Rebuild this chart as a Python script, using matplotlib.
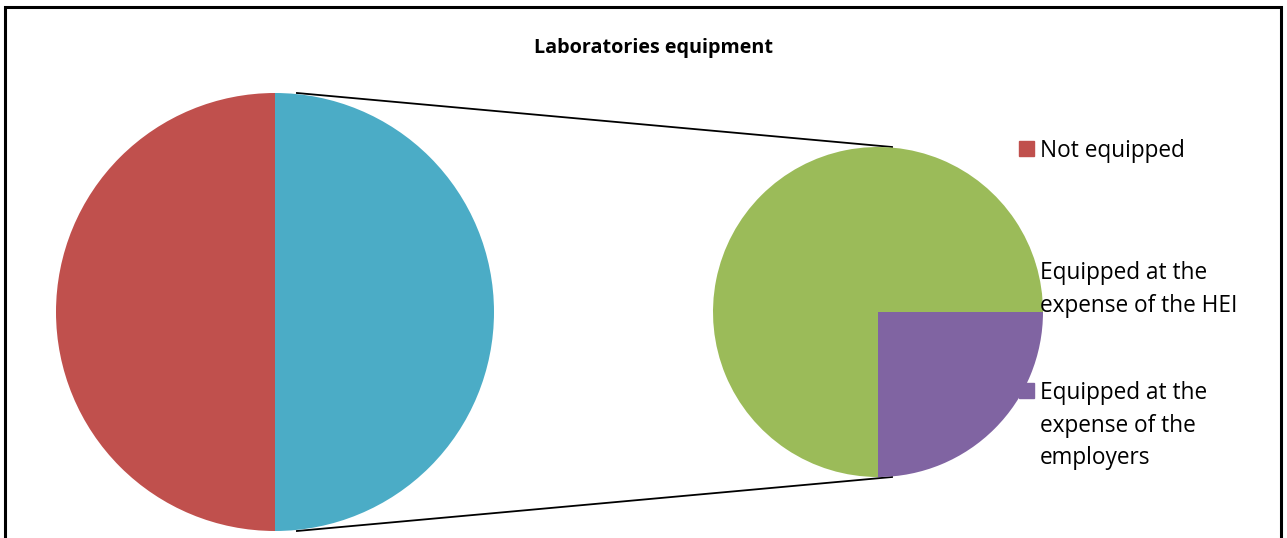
import matplotlib
matplotlib.use("Agg")
from matplotlib import pyplot as plt
from matplotlib.patches import Rectangle

# data
main_labels = ['Not equipped', 'Equipped']
main_values = [50, 50]
sub_labels = ['Equipped at the expense of the HEI', 'Equipped at the expense of the employers']
sub_values = [37.5, 12.5]
legend_labels = [['Not equipped'],
                 ['Equipped at the', 'expense of the HEI'],
                 ['Equipped at the', 'expense of the', 'employers']]

red, blue, green, purple = '#C0504D', '#4BACC6', '#9BBB59', '#8064A2'
legend_colors = [red, green, purple]

W, H = 1287, 538
plt.rcParams['font.family'] = ['Open Sans', 'DejaVu Sans']
fig = plt.figure(figsize=(W / 100, H / 100), dpi=100)
ax = fig.add_axes([0, 0, 1, 1])

# outer frame
ax.add_patch(Rectangle((5, -10), 1276, H - 7 + 10, fill=False, lw=2.2,
                       edgecolor='black', zorder=1))

ax.text(654, H - 48, 'Laboratories equipment', ha='center', va='center',
        fontsize=14.2, fontweight='bold')

# main pie: red on left, blue on right
c1, r1 = (275, H - 312), 219
w1, _ = ax.pie(main_values, colors=[red, blue], startangle=90, counterclock=True,
               center=c1, radius=r1, frame=True)
# secondary pie
c2, r2 = (878, H - 312), 165
w2, _ = ax.pie(sub_values, colors=[green, purple], startangle=0, counterclock=True,
               center=c2, radius=r2, frame=True)
for w in w1 + w2:
    w.set_zorder(4)
ax.set_xlim(0, W)
ax.set_ylim(0, H)
ax.set_aspect('equal')
ax.axis('off')

# connector lines
for s in (1, -1):
    ax.plot([c1[0] + 0.1 * r1, c2[0] + 0.085 * r2], [c1[1] + s * r1, c2[1] + s * r2],
            color='black', lw=1.3, zorder=3)

# legend (markers drawn under the pies)
ys = [148, 270, 390]
for lines, col, y in zip(legend_labels, legend_colors, ys):
    ax.add_patch(Rectangle((1019, H - y - 7.5), 15, 15, color=col, zorder=2))
    for i, line in enumerate(lines):
        ax.text(1040, H - y - 3 - i * 32.5, line, ha='left', va='center',
                fontsize=16.3, zorder=5)

fig.savefig('out.png', dpi=100)
